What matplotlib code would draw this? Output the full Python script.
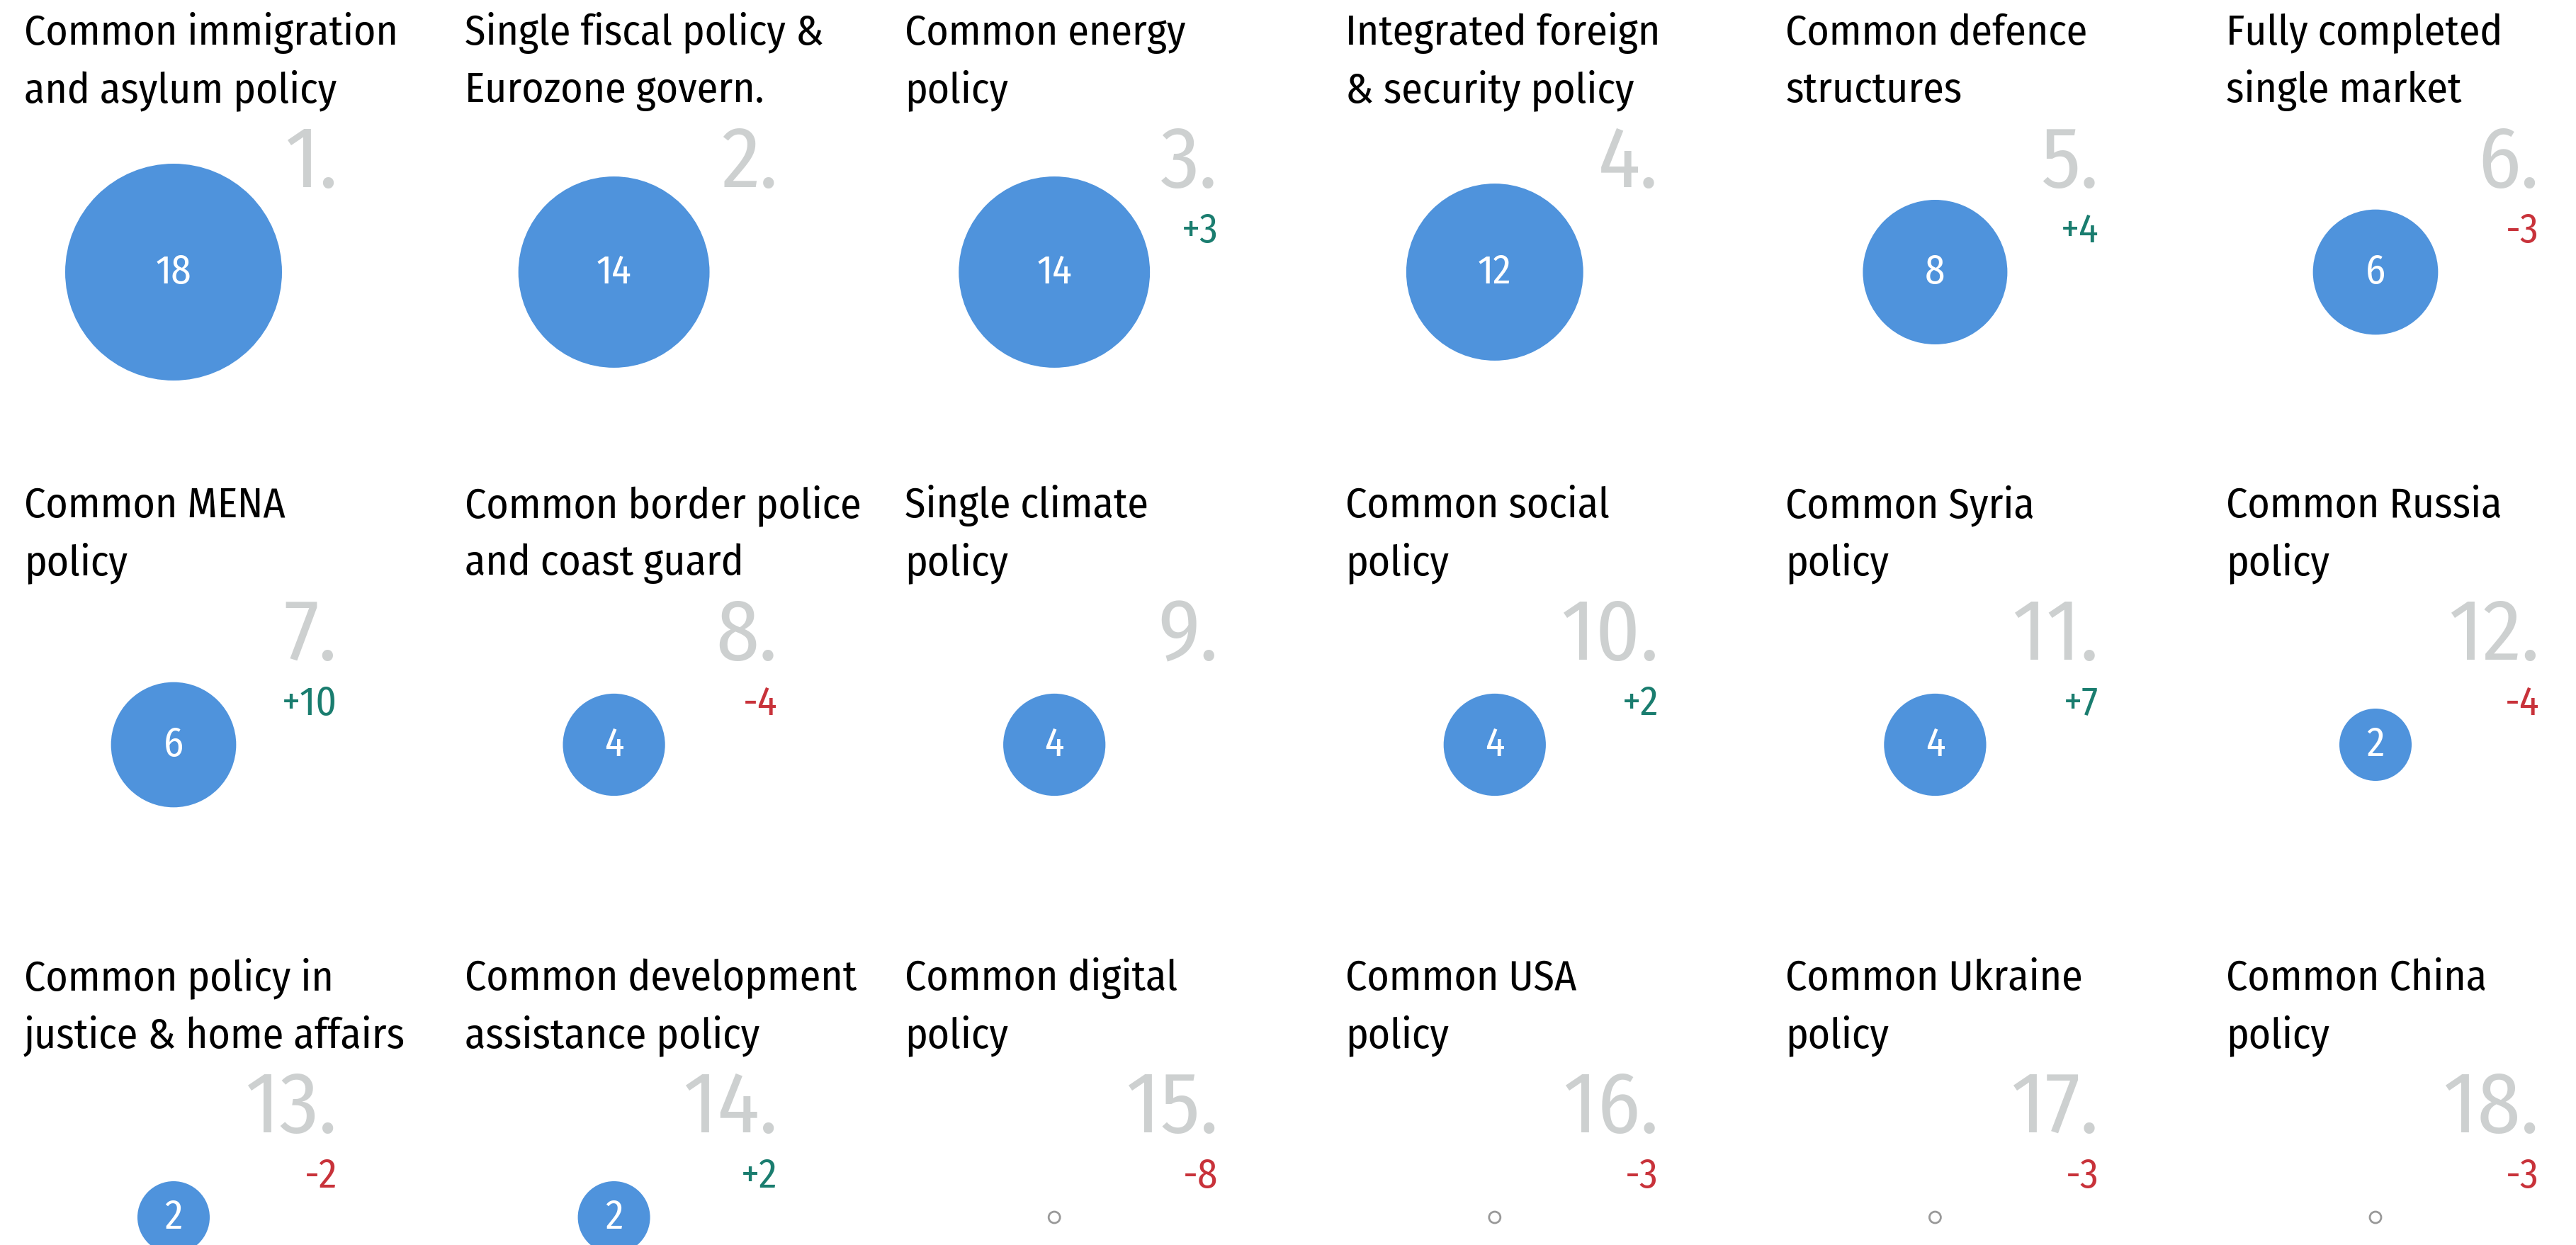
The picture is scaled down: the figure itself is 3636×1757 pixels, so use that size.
import matplotlib.pyplot as plt
from matplotlib.patches import Circle
import numpy as np

plt.rcParams['font.family'] = ['Fira Sans Condensed', 'Roboto Condensed', 'DejaVu Sans']
plt.rcParams['font.weight'] = 'normal'

titles = [
    'Common immigration\nand asylum policy', 'Single fiscal policy &\nEurozone govern.',
    'Common energy\npolicy', 'Integrated foreign\n& security policy',
    'Common defence\nstructures', 'Fully completed\nsingle market',
    'Common MENA\npolicy', 'Common border police\nand coast guard',
    'Single climate\npolicy', 'Common social\npolicy',
    'Common Syria\npolicy', 'Common Russia\npolicy',
    'Common policy in\njustice & home affairs', 'Common development\nassistance policy',
    'Common digital\npolicy', 'Common USA\npolicy',
    'Common Ukraine\npolicy', 'Common China\npolicy',
]
values = [18, 14, 14, 12, 8, 6, 6, 4, 4, 4, 4, 2, 2, 2, 0, 0, 0, 0]
changes = [None, None, 3, None, 4, -3, 10, -4, None, 2, 7, -4, -2, 2, -8, -3, -3, -3]

W, H = 3637, 1758
ncols = 6
col_w = 621.6
row_h = 667
left = 34
blue = '#4f93dc'
grey = '#cdd0d0'
green = '#1a7d6f'
red = '#c8323a'
r_max = 153

fig = plt.figure(figsize=(W / 100, H / 100), dpi=100)
ax = fig.add_axes([0, 0, 1, 1])
ax.set_xlim(0, W)
ax.set_ylim(H, 0)
ax.axis('off')

for i, (t, v, c) in enumerate(zip(titles, values, changes)):
    x0 = left + (i % ncols) * col_w
    y0 = (i // ncols) * row_h
    lines = t.split('\n')
    for k, ln in enumerate(lines):
        ax.text(x0, y0 + 63 + k * 81, ln, fontsize=43, color='black', ha='left', va='baseline')
    xr = x0 + 442
    ax.text(xr, y0 + 264, f'{i + 1}.', fontsize=88, color=grey, ha='right', va='baseline')
    cx, cy = x0 + 211, y0 + 385
    if v > 0:
        r = r_max * np.sqrt(v / max(values))
        ax.add_patch(Circle((cx, cy), r, facecolor=blue, edgecolor='none'))
        ax.text(cx, cy, str(v), fontsize=41, color='white', ha='center', va='center')
    else:
        ax.add_patch(Circle((cx, cy), 8, facecolor='none', edgecolor='#999999', linewidth=2))
    if c is not None:
        ax.text(xr, y0 + 342, f'{c:+d}', fontsize=41, color=green if c > 0 else red,
                ha='right', va='baseline')

fig.savefig('out.png', dpi=100)
